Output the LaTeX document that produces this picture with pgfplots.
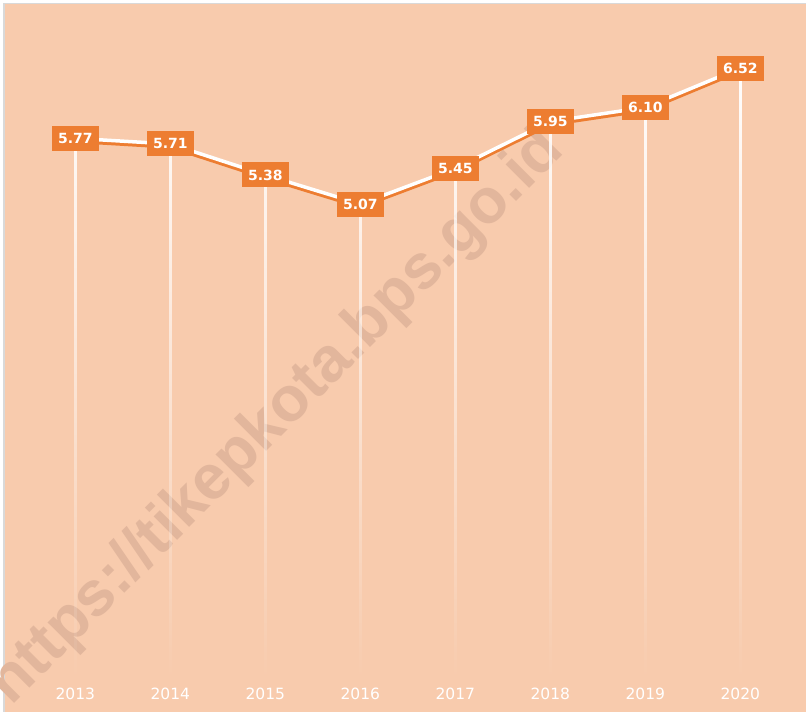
\documentclass[border=0pt]{standalone}
\usepackage{pgfplots}
\pgfplotsset{compat=1.18}
\usepackage{fontspec}
\setmainfont{DejaVu Sans}
\newfontfamily\wmfont{Liberation Sans}
\usetikzlibrary{fadings}
\definecolor{bgc}{RGB}{248,203,173}
\definecolor{orng}{RGB}{237,125,49}
\definecolor{wmc}{RGB}{226,182,156}
\definecolor{framegray}{RGB}{217,217,217}
\tikzfading[name=dropfade, top color=transparent!0, middle color=transparent!5, bottom color=transparent!100]
\pgfplotstableread{
x y
0 5.77
1 5.71
2 5.38
3 5.07
4 5.45
5 5.95
6 6.10
7 6.52
}\datatable
\begin{document}
\begin{tikzpicture}
\begin{axis}[name=ax, scale only axis, width=806bp, height=712bp,
  xmin=-0.7926, xmax=7.6916, ymin=-0.3454, ymax=7.2452,
  axis on top,
  axis line style={draw=none}, major tick length=0pt, ytick=\empty,
  xtick={0,1,2,3,4,5,6,7},
  xticklabels={2013,2014,2015,2016,2017,2018,2019,2020},
  xticklabel style={anchor=center, yshift=18bp, font=\fontsize{15.5bp}{16bp}\selectfont, text=white},
  axis background/.style={fill=white},
  /pgf/number format/assume math mode=true,
  clip=true]
\path[fill=bgc, draw=framegray, line width=1.5bp] ([xshift=3.75bp,yshift=-3.75bp]rel axis cs:0,1) rectangle ([xshift=5bp,yshift=-5bp]rel axis cs:1,0);
\node[rotate=45, text=wmc, font=\wmfont\bfseries\fontsize{63bp}{63bp}\selectfont] at (axis cs:2.123,2.789) {https://tikepkota.bps.go.id};
\addplot[ycomb, draw=white, line width=2.5bp, path fading=dropfade] table {\datatable};
\addplot[orng, line width=3.5bp, yshift=-3bp] table {\datatable};
\addplot[white, line width=3.5bp,
  nodes near coords={\pgfmathprintnumber[fixed,fixed zerofill,precision=2]{\pgfplotspointmeta}},
  every node near coord/.append style={anchor=center, fill=orng, text=white, font=\bfseries\fontsize{14bp}{14bp}\selectfont, minimum width=47bp, minimum height=25bp, inner sep=0pt}
] table {\datatable};
\end{axis}
\pgfresetboundingbox
\useasboundingbox (ax.south west) rectangle (ax.north east);
\end{tikzpicture}
\end{document}
